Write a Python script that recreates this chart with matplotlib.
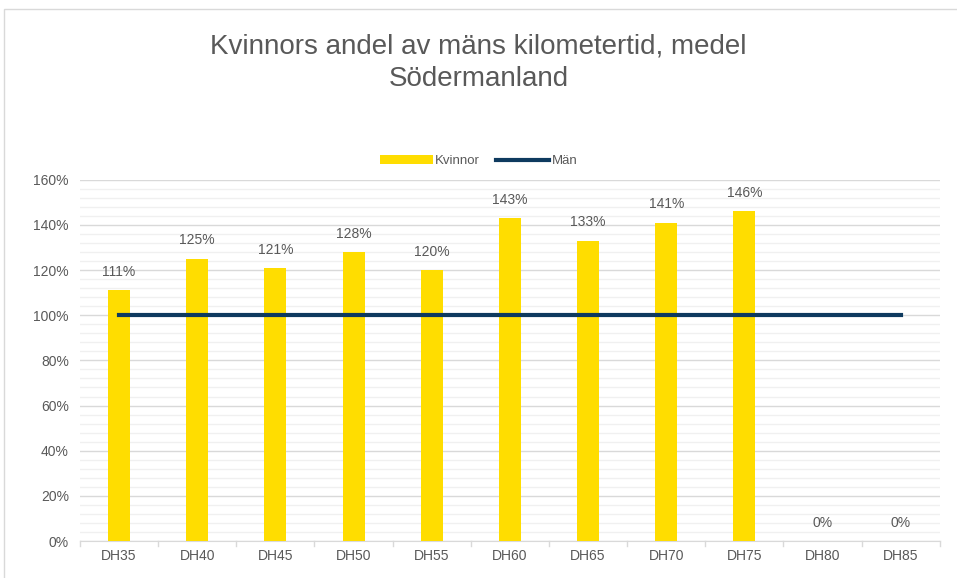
import matplotlib
matplotlib.use('Agg')
import matplotlib.pyplot as plt
from matplotlib.patches import Rectangle
from matplotlib.ticker import MultipleLocator, PercentFormatter

plt.rcParams['font.family'] = ['Liberation Sans', 'DejaVu Sans']

categories = ['DH35', 'DH40', 'DH45', 'DH50', 'DH55', 'DH60', 'DH65', 'DH70', 'DH75', 'DH80', 'DH85']
kvinnor = [111, 125, 121, 128, 120, 143, 133, 141, 146, 0, 0]
man = [100] * len(categories)

grey = '#595959'
fig = plt.figure(figsize=(9.57, 5.78), dpi=100)
ax = fig.add_axes([0.0836, 0.064, 0.8984, 0.625])

x = range(len(categories))
bars = ax.bar(x, kvinnor, width=0.28, color='#FFDD00', label='Kvinnor', zorder=3)
line, = ax.plot(x, man, color='#0E3A5F', lw=3, label='Män', zorder=4)

for i, v in enumerate(kvinnor):
    ax.text(i, v + 5, f'{v}%', ha='center', va='bottom', fontsize=10, color=grey)

ax.set_xlim(-0.5, len(categories) - 0.5)
ax.set_ylim(0, 160)
ax.yaxis.set_major_locator(MultipleLocator(20))
ax.yaxis.set_minor_locator(MultipleLocator(4))
ax.yaxis.set_major_formatter(PercentFormatter(decimals=0))
ax.grid(which='major', axis='y', color='#D9D9D9', lw=1, zorder=0)
ax.grid(which='minor', axis='y', color='#F0F0F0', lw=1, zorder=0)
ax.set_xticks(list(x))
ax.set_xticklabels(categories)
ax.tick_params(axis='y', which='both', length=0, labelsize=10, labelcolor=grey, pad=8)
ax.tick_params(axis='x', length=0, labelsize=10, labelcolor=grey, pad=6)
for s in ['top', 'right', 'left']:
    ax.spines[s].set_visible(False)
ax.spines['bottom'].set_color('#D9D9D9')
for i in range(len(categories) + 1):
    ax.plot([i - 0.5, i - 0.5], [0, -2], color='#D9D9D9', lw=1, clip_on=False)

fig.text(0.5, 0.92, 'Kvinnors andel av mäns kilometertid, medel', ha='center', va='center', fontsize=20, color=grey)
fig.text(0.5, 0.864, 'Södermanland', ha='center', va='center', fontsize=20, color=grey)

leg = fig.legend([bars, line], ['Kvinnor', 'Män'], loc='center', bbox_to_anchor=(0.5, 0.721), ncol=2,
                 frameon=False, fontsize=9.5, labelcolor=grey, handlelength=4, handleheight=0.6,
                 handletextpad=0.2, columnspacing=1.2)

fig.patches.append(Rectangle((4 / 957, -0.01), 1.0, 1 - 9 / 578 + 0.01, transform=fig.transFigure,
                             fill=False, edgecolor='#D9D9D9', lw=1))

fig.savefig('out.png', dpi=100)
